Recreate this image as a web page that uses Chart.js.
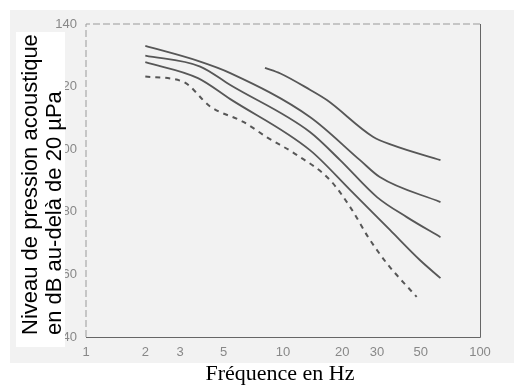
<!DOCTYPE html>
<html>
<head>
<meta charset="utf-8">
<script src="https://cdn.jsdelivr.net/npm/chart.js@4"></script>
<style>
  html, body { margin: 0; padding: 0; background: #fff; }
  #wrap { width: 514px; height: 389px; position: relative; }
</style>
</head>
<body>
<div id="wrap"><canvas id="levelChart"></canvas></div>
<script>
  // Données (fréquence en Hz, niveau en dB)
  const xTicks = [1, 2, 3, 5, 10, 20, 30, 50, 100];
  const yTicks = [40, 60, 80, 100, 120, 140];

  const freqA = [8.1, 9.7, 13.7, 16.7, 28.6, 36, 63];
  const levelA = [126, 124.2, 119, 115.7, 104, 101.3, 96.5];

  const freqB = [2, 3.7, 5.4, 13.7, 24.6, 31, 63];
  const levelB = [133, 128.2, 124.3, 110.3, 96.5, 91.1, 83.1];

  const freqC = [2, 3.8, 5.4, 13.7, 19.5, 30, 42.5, 63];
  const levelC = [129.9, 126.4, 120.5, 105.5, 96.5, 84.7, 78.3, 71.9];

  const freqD = [2, 3.7, 5.4, 13.7, 21.9, 34.9, 49.5, 63];
  const levelD = [127.8, 122.7, 116, 99.7, 87, 74.2, 64.6, 58.8];

  const freqE = [2, 3.1, 4.3, 6.3, 8.3, 11.8, 17.3, 22.4, 27, 33.6, 47.7];
  const levelE = [123.2, 121.6, 113.5, 108.7, 103.8, 98.1, 90.2, 80.6, 72, 63.6, 52.8];

  const yTitle = ['Niveau de pression acoustique', 'en dB au-delà de 20 µPa'];
  const xTitle = 'Fréquence en Hz';

  function toPoints(freqs, levels) {
    return freqs.map((f, i) => ({ x: f, y: levels[i] }));
  }

  function curve(freqs, levels, dashed) {
    return {
      data: toPoints(freqs, levels),
      borderColor: '#575757',
      borderWidth: dashed ? 2 : 1.8,
      borderDash: dashed ? [5, 5] : [],
      pointRadius: 0,
      fill: false,
      cubicInterpolationMode: 'monotone'
    };
  }

  // Fond gris de la figure scannée + cadre
  const paperPlugin = {
    id: 'paper',
    beforeDraw(chart) {
      const ctx = chart.ctx;
      ctx.save();
      ctx.fillStyle = '#f2f2f2';
      ctx.fillRect(10, 10, 504, 353);
      ctx.restore();
    },
    afterDatasetsDraw(chart) {
      const { ctx, chartArea: a } = chart;
      ctx.save();
      ctx.lineWidth = 1;
      ctx.strokeStyle = '#9a9a9a';
      ctx.setLineDash([7, 3]);
      ctx.beginPath();
      ctx.moveTo(a.left, a.bottom);
      ctx.lineTo(a.left, a.top);
      ctx.lineTo(a.right, a.top);
      ctx.stroke();
      ctx.setLineDash([]);
      ctx.strokeStyle = '#666';
      ctx.beginPath();
      ctx.moveTo(a.left, a.bottom + 0.5);
      ctx.lineTo(a.right + 0.5, a.bottom + 0.5);
      ctx.lineTo(a.right + 0.5, a.top);
      ctx.stroke();
      ctx.restore();
    },
    afterDraw(chart) {
      const ctx = chart.ctx;
      ctx.save();
      // encadré blanc du titre vertical
      ctx.fillStyle = '#fff';
      ctx.fillRect(16, 32, 49, 315);
      ctx.fillStyle = '#000';
      ctx.font = '22px "Liberation Sans", Arial, sans-serif';
      ctx.textAlign = 'left';
      ctx.textBaseline = 'alphabetic';
      [37, 61].forEach((x, i) => {
        ctx.save();
        ctx.translate(x, 335);
        ctx.rotate(-Math.PI / 2);
        ctx.fillText(yTitle[i], 0, 0);
        ctx.restore();
      });
      // titre horizontal
      ctx.font = '22px "Liberation Serif", "Times New Roman", serif';
      ctx.textAlign = 'center';
      ctx.fillText(xTitle, 280, 380);
      ctx.restore();
    }
  };

  const tickFont = { family: '"Liberation Sans", Arial, sans-serif', size: 13 };

  new Chart(document.getElementById('levelChart'), {
    type: 'line',
    data: {
      datasets: [
        curve(freqA, levelA, false),
        curve(freqB, levelB, false),
        curve(freqC, levelC, false),
        curve(freqD, levelD, false),
        curve(freqE, levelE, true)
      ]
    },
    options: {
      responsive: true,
      maintainAspectRatio: false,
      animation: false,
      layout: { padding: { top: 24, right: 34, left: 0, bottom: 0 } },
      plugins: {
        legend: { display: false },
        tooltip: { enabled: false }
      },
      scales: {
        x: {
          type: 'logarithmic',
          min: 1,
          max: 100,
          grid: { display: false, drawTicks: false },
          border: { display: false },
          afterBuildTicks: (s) => { s.ticks = xTicks.map(v => ({ value: v })); },
          afterFit: (s) => { s.height = 52; },
          ticks: {
            color: '#888',
            font: tickFont,
            padding: 8,
            autoSkip: false,
            maxRotation: 0,
            callback: (v) => String(v)
          }
        },
        y: {
          min: 40,
          max: 140,
          grid: { display: false, drawTicks: false },
          border: { display: false },
          afterBuildTicks: (s) => { s.ticks = yTicks.map(v => ({ value: v })); },
          afterFit: (s) => { s.width = 86; },
          ticks: {
            color: '#888',
            font: tickFont,
            padding: 9
          }
        }
      }
    },
    plugins: [paperPlugin]
  });
</script>
</body>
</html>
